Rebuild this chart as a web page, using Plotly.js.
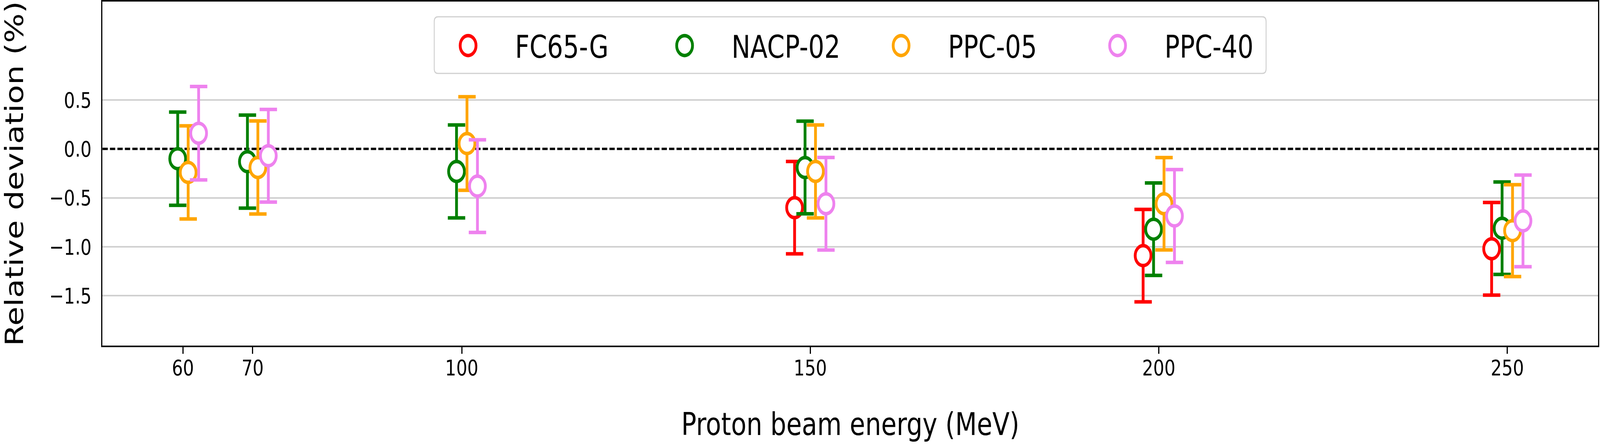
<!DOCTYPE html>
<html>
<head>
<meta charset="utf-8">
<script src="https://cdn.plot.ly/plotly-3.0.1.min.js"></script>
<style>
  html, body { margin: 0; padding: 0; background: #ffffff; overflow: hidden; }
  #wrap { position: absolute; left: 0; top: 0; width: 5151px; height: 1137px; transform-origin: 0 0; }
  #chart { width: 5151px; height: 1137px; }
</style>
</head>
<body>
<div id="wrap"><div id="chart"></div></div>
<script>
// ---- data ----
const energies = [60, 70, 100, 150, 200, 250];           // Proton beam energy (MeV)
const seriesNames = ["FC65-G", "NACP-02", "PPC-05", "PPC-40"];

const fc65g   = [null, null, null, -0.60, -1.09, -1.02];
const fc65gErr = [null, null, null, 0.472, 0.472, 0.473];

const nacp02   = [-0.10, -0.13, -0.23, -0.19, -0.82, -0.81];
const nacp02Err = [0.476, 0.475, 0.475, 0.473, 0.472, 0.472];

const ppc05   = [-0.24, -0.19, 0.055, -0.23, -0.56, -0.835];
const ppc05Err = [0.476, 0.475, 0.478, 0.475, 0.472, 0.469];

const ppc40   = [0.16, -0.07, -0.38, -0.56, -0.685, -0.735];
const ppc40Err = [0.477, 0.473, 0.473, 0.473, 0.474, 0.468];

const xTickVals = [60, 70, 100, 150, 200, 250];
const yTickVals = [-1.5, -1.0, -0.5, 0.0, 0.5];

// ---- styling ----
const colors = ["red", "green", "orange", "violet"];
const xOffsets = [-2.25, -0.75, 0.75, 2.25];   // side-by-side dodge of series
const FONT = "DejaVu Sans, Liberation Sans, sans-serif";

// design size 5151 x 1137; fit the drawing to the actual viewport
const DW = 5151, DH = 1137;
const vw = window.innerWidth || DW, vh = window.innerHeight || DH;
document.getElementById("wrap").style.transform = "scale(" + (vw / DW) + "," + (vh / DH) + ")";

// plot-area geometry (design px) used to place the legend frame
const PL = 330, PR = 5145, PT = 4, PB = 885;
const toPX = x => (x - PL) / (PR - PL);
const toPY = y => 1 - (y - PT) / (PB - PT);

const allValues = [fc65g, nacp02, ppc05, ppc40];
const allErrors = [fc65gErr, nacp02Err, ppc05Err, ppc40Err];

const traces = seriesNames.map((name, i) => {
  const xs = [], ys = [], es = [];
  energies.forEach((e, j) => {
    if (allValues[i][j] !== null) {
      xs.push(e + xOffsets[i]);
      ys.push(allValues[i][j]);
      es.push(allErrors[i][j]);
    }
  });
  return {
    type: "scatter",
    mode: "markers",
    name: name,
    x: xs,
    y: ys,
    error_y: { type: "data", array: es, visible: true, color: colors[i], thickness: 9, width: 28 },
    marker: { symbol: "circle", size: 51, color: "#ffffff", line: { color: colors[i], width: 9 } },
    hoverinfo: "skip"
  };
});

// rounded legend frame (matplotlib-style fancybox)
function roundedRect(x0, y0, x1, y1, r) {
  const X = toPX, Y = toPY;
  return "M" + X(x0 + r) + "," + Y(y0) +
    " L" + X(x1 - r) + "," + Y(y0) +
    " Q" + X(x1) + "," + Y(y0) + " " + X(x1) + "," + Y(y0 + r) +
    " L" + X(x1) + "," + Y(y1 - r) +
    " Q" + X(x1) + "," + Y(y1) + " " + X(x1 - r) + "," + Y(y1) +
    " L" + X(x0 + r) + "," + Y(y1) +
    " Q" + X(x0) + "," + Y(y1) + " " + X(x0) + "," + Y(y1 - r) +
    " L" + X(x0) + "," + Y(y0 + r) +
    " Q" + X(x0) + "," + Y(y0) + " " + X(x0 + r) + "," + Y(y0) + " Z";
}

const layout = {
  width: DW,
  height: DH,
  paper_bgcolor: "#ffffff",
  plot_bgcolor: "#ffffff",
  margin: { l: PL, r: DW - PR, t: PT, b: DH - PB, pad: 0 },
  font: { family: FONT, color: "#000000", size: 56 },
  showlegend: true,
  legend: {
    orientation: "h",
    x: toPX(1356), xanchor: "left",
    y: toPY(117), yanchor: "middle",
    font: { family: FONT, size: 81, color: "#000000" },
    bgcolor: "rgba(0,0,0,0)",
    borderwidth: 0,
    itemwidth: 292,
    entrywidth: 390,
    valign: "middle"
  },
  xaxis: {
    range: [48.46, 263.03],
    tickmode: "array",
    tickvals: xTickVals,
    ticktext: xTickVals.map(String),
    ticks: "outside", ticklen: 17, tickwidth: 4, tickcolor: "#000000",
    ticklabelstandoff: -12,
    tickfont: { family: FONT, size: 56, color: "#000000" },
    showgrid: false, zeroline: false,
    showline: true, linecolor: "#000000", linewidth: 4, mirror: true,
    title: { text: "Proton beam energy (MeV)", font: { family: FONT, size: 81, color: "#000000" }, standoff: 85 }
  },
  yaxis: {
    range: [-2.009, 1.505],
    tickmode: "array",
    tickvals: yTickVals,
    ticktext: yTickVals.map(v => (v < 0 ? "\u2212" : "") + Math.abs(v).toFixed(1)),
    ticks: "outside", ticklen: 20, tickwidth: 4, tickcolor: "rgba(0,0,0,0)",
    tickfont: { family: FONT, size: 56, color: "#000000" },
    showgrid: true, gridcolor: "#d0d0d0", gridwidth: 4,
    zeroline: true, zerolinecolor: "rgba(0,0,0,0)", zerolinewidth: 1,
    showline: true, linecolor: "#000000", linewidth: 4, mirror: true,
    title: { text: "Relative deviation (%)", font: { family: FONT, size: 80, color: "#000000" }, standoff: 70 }
  },
  shapes: [
    {
      type: "line", xref: "paper", x0: 0, x1: 1, yref: "y", y0: 0, y1: 0,
      line: { color: "#000000", width: 6, dash: "17px,7px" },
      layer: "below"
    },
    {
      type: "path", xref: "paper", yref: "paper",
      path: roundedRect(1398, 43, 4076, 188, 12),
      fillcolor: "rgba(255,255,255,0.8)",
      line: { color: "#d0d0d0", width: 3 },
      layer: "above"
    }
  ]
};

Plotly.newPlot("chart", traces, layout, { displayModeBar: false, staticPlot: true }).then(() => {
  // enlarge the legend symbols to match the data markers
  const r = 25.5;
  const d = "M" + r + ",0A" + r + "," + r + " 0 1,1 0,-" + r + "A" + r + "," + r + " 0 0,1 " + r + ",0Z";
  document.querySelectorAll("#chart .legend .legendpoints path.scatterpts").forEach(p => {
    p.setAttribute("d", d);
    p.style.strokeWidth = "9px";
  });
});
</script>
</body>
</html>
